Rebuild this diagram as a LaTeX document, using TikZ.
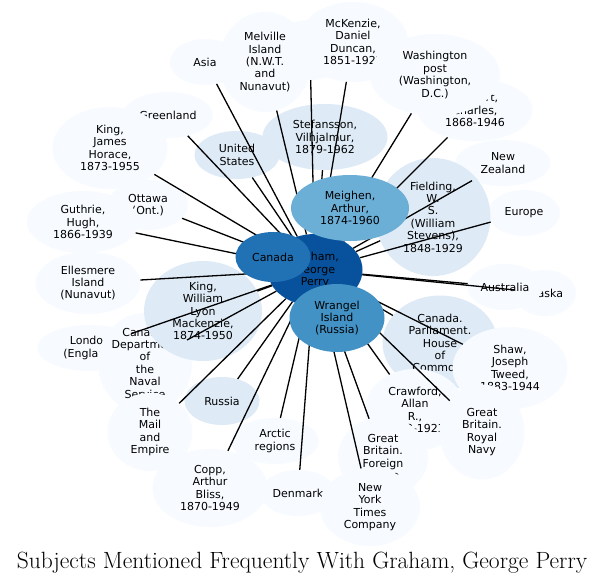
\documentclass[tikz,border=0pt]{standalone}
\usepackage{fontspec}
\newfontfamily\dejavu{DejaVu Sans}
\usetikzlibrary{shapes.geometric}
\definecolor{palest}{HTML}{F7FBFF}
\definecolor{pale}{HTML}{DEEBF7}
\definecolor{mid}{HTML}{6BAED6}
\definecolor{midd}{HTML}{4292C6}
\definecolor{darkb}{HTML}{2171B5}
\definecolor{darkest}{HTML}{08519C}
\tikzset{
    % every subject is an ellipse with its label inside
    subj/.style={ellipse, fill=palest, inner sep=0pt, align=center,
        font=\dejavu\fontsize{11}{12.4}\selectfont},
    lit/.style={fill=pale},
    link/.style={draw=black, line width=1.3pt}}
\begin{document}
\begin{tikzpicture}[x=1pt, y=-1pt]
\useasboundingbox (0,0) rectangle (605,584);
\fill[white] (0,0) rectangle (605,584);

\node (asia) [subj, minimum width=70, minimum height=46] at (205,62) {Asia};
\node (gbarc) [subj, minimum width=80, minimum height=60] at (310,50) {Great\\Britain.};
\node (melv) [subj, minimum width=92, minimum height=100] at (265,62) {Melville\\Island\\(N.W.T.\\and\\Nunavut)};
\node (mck) [subj, minimum width=110, minimum height=80] at (353,42) {McKenzie,\\Daniel\\Duncan,\\1851-1927};
\node (stew) [subj, minimum width=115, minimum height=62] at (475,110) {Stewart,\\Charles,\\1868-1946};
\node (wash) [subj, minimum width=130, minimum height=82] at (435,75) {Washington\\post\\(Washington,\\D.C.)};
\node (green) [subj, minimum width=90, minimum height=46] at (168,115) {Greenland};
\node (kingj) [subj, minimum width=115, minimum height=82] at (110,148) {King,\\James\\Horace,\\1873-1955};
\node (nz) [subj, minimum width=95, minimum height=46] at (503,163) {New\\Zealand};
\node (europe) [subj, minimum width=72, minimum height=46] at (524,213) {Europe};
\node (ottawa) [subj, minimum width=80, minimum height=50] at (148,205) {Ottawa\\(Ont.)};
\node (guth) [subj, minimum width=112, minimum height=62] at (83,222) {Guthrie,\\Hugh,\\1866-1939};
\node (ells) [subj, minimum width=105, minimum height=62] at (88,283) {Ellesmere\\Island\\(Nunavut)};
\node (alaska) [subj, minimum width=62, minimum height=46] at (545,293) {Alaska};
\node (austr) [subj, minimum width=75, minimum height=46] at (505,287) {Australia};
\node (london) [subj, minimum width=105, minimum height=46] at (90,348) {London\\(England)};
\node (naval) [subj, minimum width=92, minimum height=100] at (145,363) {Canada.\\Department\\of\\the\\Naval\\Service};
\node (kingw) [subj, lit, minimum width=118, minimum height=100] at (203,311) {King,\\William\\Lyon\\Mackenzie,\\1874-1950};
\node (commons) [subj, lit, minimum width=115, minimum height=95] at (440,343) {Canada.\\Parliament.\\House\\of\\Commons};
\node (shaw) [subj, minimum width=115, minimum height=82] at (510,368) {Shaw,\\Joseph\\Tweed,\\1883-1944};
\node (mail) [subj, minimum width=85, minimum height=78] at (150,432) {The\\Mail\\and\\Empire};
\node (crawf) [subj, minimum width=100, minimum height=82] at (415,410) {Crawford,\\Allan\\R.,\\1902-1923};
\node (navy) [subj, minimum width=85, minimum height=95] at (482,432) {Great\\Britain.\\Royal\\Navy};
\node (arctic) [subj, minimum width=88, minimum height=46] at (275,441) {Arctic\\regions};
\node (foreign) [subj, minimum width=90, minimum height=80] at (383,457) {Great\\Britain.\\Foreign\\Office};
\node (copp) [subj, minimum width=115, minimum height=78] at (210,488) {Copp,\\Arthur\\Bliss,\\1870-1949};
\node (denmark) [subj, minimum width=75, minimum height=46] at (298,493) {Denmark};
\node (nyt) [subj, minimum width=100, minimum height=78] at (370,507) {New\\York\\Times\\Company};
\node (usa) [subj, lit, minimum width=85, minimum height=48] at (237,155) {United\\States};
\node (stef) [subj, lit, minimum width=125, minimum height=66] at (325,137) {Stefansson,\\Vilhjalmur,\\1879-1962};
\node (field) [subj, lit, minimum width=115, minimum height=118] at (433,217) {Fielding,\\W.\\S.\\(William\\Stevens),\\1848-1929};
\node (russia) [subj, lit, minimum width=75, minimum height=48] at (222,401) {Russia};

\node (graham) [subj, fill=darkest, minimum width=95, minimum height=72] at (315,270) {Graham,\\George\\Perry};

\foreach \t in {asia,gbarc,melv,mck,stew,wash,green,kingj,nz,europe,ottawa,guth,
    ells,alaska,austr,london,naval,kingw,commons,shaw,mail,crawf,navy,arctic,
    foreign,copp,denmark,nyt,usa,stef,field,russia}
    \draw [link] (graham) -- (\t);

\node (meig) [subj, fill=mid, minimum width=118, minimum height=66] at (350,208) {Meighen,\\Arthur,\\1874-1960};
\node (canada) [subj, fill=darkb, minimum width=75, minimum height=50] at (273,257) {Canada};
\node (wrang) [subj, fill=midd, minimum width=95, minimum height=68] at (337,318) {Wrangel\\Island\\(Russia)};

\node (title) at (302,563) {\fontsize{23.5}{28}\selectfont Subjects Mentioned Frequently With Graham, George Perry};
\end{tikzpicture}
\end{document}
